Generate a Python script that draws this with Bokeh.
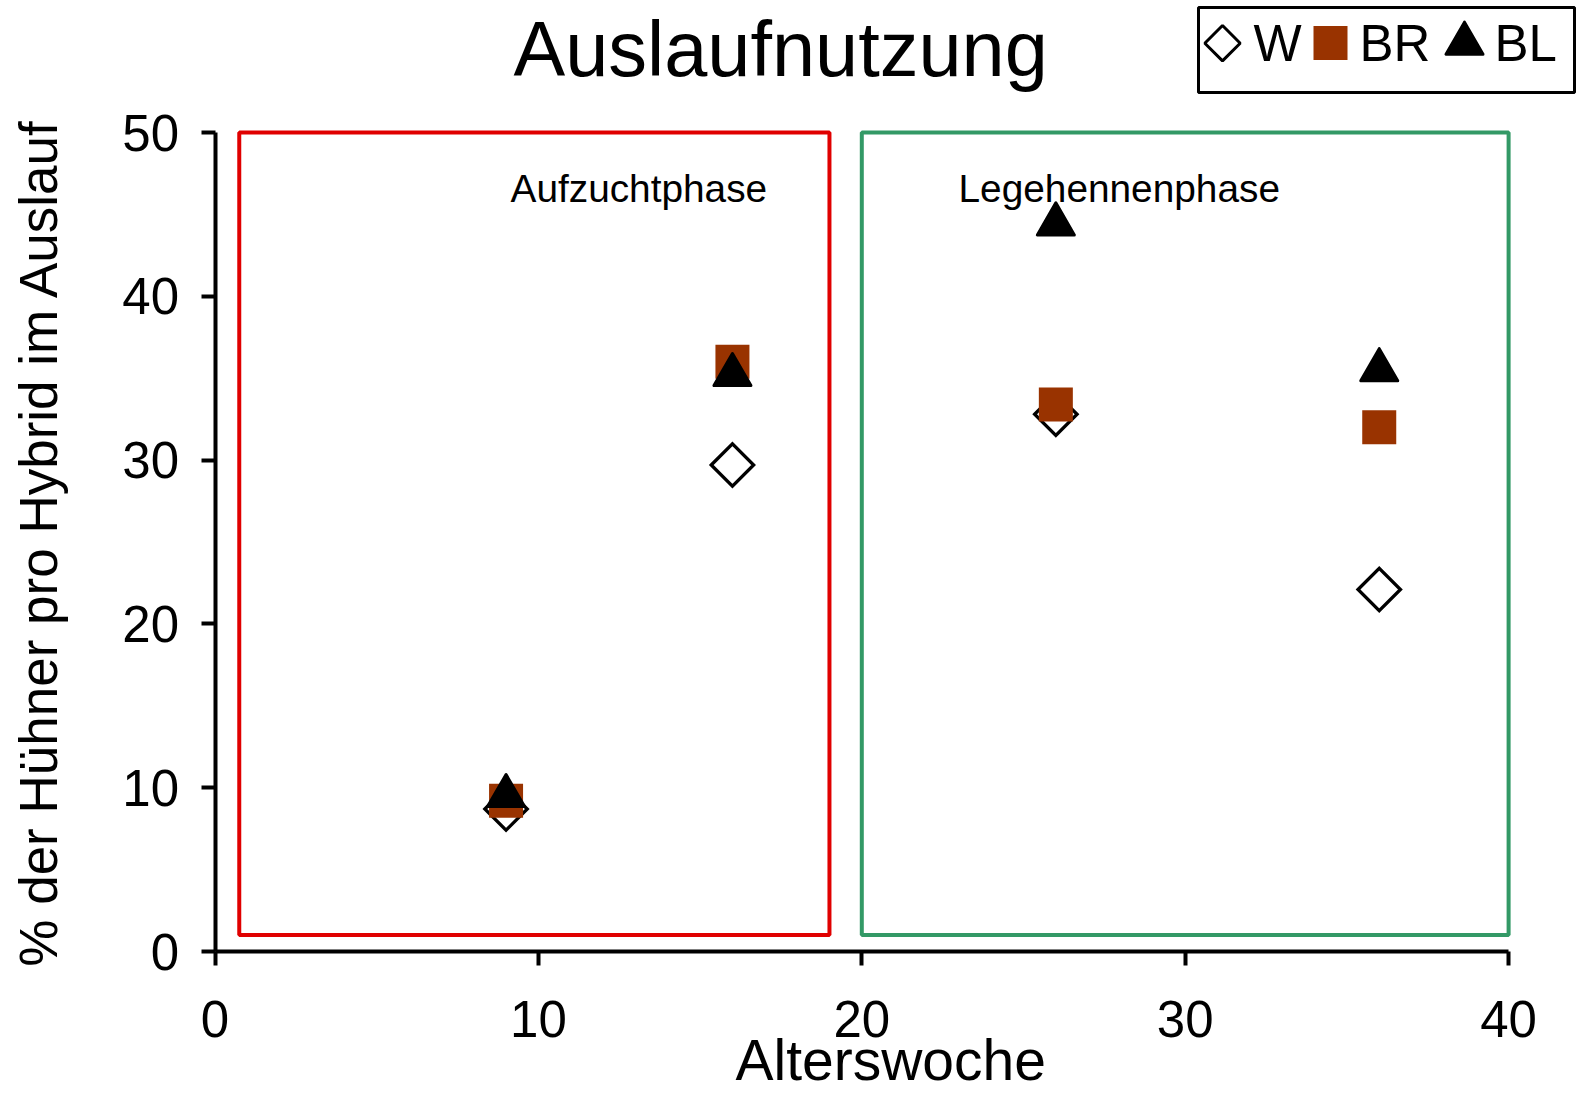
import math
from bokeh.plotting import figure
from bokeh.models import Range1d, Label
from bokeh.embed import file_html
from bokeh.resources import INLINE

# ---------------- data ----------------
weeks = [9, 16, 26, 36]
w_values = [8.7, 29.7, 32.8, 22.1]
br_values = [9.2, 36.0, 33.4, 32.0]
bl_values = [9.5, 35.2, 44.4, 35.5]
series_names = ["W", "BR", "BL"]

x_ticks = [0, 10, 20, 30, 40]
y_ticks = [0, 10, 20, 30, 40, 50]

phase_names = ["Aufzuchtphase", "Legehennenphase"]
phase_start = [0.75, 20]
phase_end = [19, 40]
phase_low = [1, 1]
phase_high = [50, 50]

title_text = "Auslaufnutzung"
x_label = "Alterswoche"
y_label = "% der Hühner pro Hybrid im Auslauf"

# ---------------- styles / layout ----------------
FONT = "Liberation Sans"
BROWN = "#993300"
RED = "#E00000"
GREEN = "#339966"
W, H = 1577, 1094
X0, XS = 214.5, 32.34     # pixel of x=0, pixels per x unit
Y0, YS = 951.0, 16.38     # pixel of y=0, pixels per y unit
BASE = 0.35               # baseline correction (em)


def dx(px):
    return (px - X0) / XS


def dy(py):
    return (Y0 - py) / YS


p = figure(width=W, height=H, output_backend="svg", toolbar_location=None,
           title=None, x_range=Range1d(dx(0), dx(W)), y_range=Range1d(dy(H), dy(0)),
           min_border=0)
p.outline_line_color = None
p.xgrid.grid_line_color = None
p.ygrid.grid_line_color = None
p.background_fill_color = "white"
p.border_fill_color = "white"

for ax in (p.xaxis[0], p.yaxis[0]):
    ax.fixed_location = 0
    ax.axis_line_width = 4
    ax.axis_line_color = "black"
    ax.major_tick_line_width = 4
    ax.major_tick_line_color = "black"
    ax.major_tick_out = 14
    ax.major_tick_in = 0
    ax.minor_tick_line_color = None
    ax.major_label_text_font = FONT
    ax.major_label_text_font_size = "51px"
    ax.major_label_text_color = "black"
p.xaxis.bounds = (0, 40)
p.yaxis.bounds = (0, 50)
p.xaxis.ticker = x_ticks
p.yaxis.ticker = y_ticks
p.xaxis.major_label_standoff = 35
p.yaxis.major_label_standoff = 22

# phase boxes
p.quad(left=phase_start[:1], right=phase_end[:1], bottom=phase_low[:1], top=phase_high[:1],
       fill_color=None, line_color=RED, line_width=4)
p.quad(left=phase_start[1:], right=phase_end[1:], bottom=phase_low[1:], top=phase_high[1:],
       fill_color=None, line_color=GREEN, line_width=4)

# series
p.scatter(weeks, w_values, marker="square", size=30, angle=math.pi / 4,
          fill_color="white", line_color="black", line_width=3.3, line_join="miter")
p.scatter(weeks, br_values, marker="square", size=34, fill_color=BROWN, line_color=None)
p.scatter(weeks, bl_values, marker="triangle", size=37, fill_color="black",
          line_color="black", line_width=3, line_join="round")


def label(text, px, base_py, size, align="left", angle=0.0):
    if angle == 0.0:
        ax_, ay_ = dx(px), dy(base_py - BASE * size)
    else:
        ax_, ay_ = dx(px - BASE * size), dy(base_py)
    p.add_layout(Label(x=ax_, y=ay_, text=text, text_font=FONT,
                       text_font_size=f"{size}px", text_align=align,
                       text_baseline="alphabetic", angle=angle, text_color="black"))


# phase labels
for name, lx in zip(phase_names, [510, 958]):
    label(name, lx, 201.7, 38.8)

# title
label(title_text, 513, 75.4, 77.5)

# axis labels
label(x_label, 735, 1079.3, 57)
label(y_label, 57, 542, 53, align="center", angle=math.pi / 2)

# legend (manual, to match marker sizes)
p.quad(left=[dx(1198)], right=[dx(1574)], bottom=[dy(92)], top=[dy(7)],
       fill_color="white", line_color="black", line_width=3)
p.scatter([dx(1222)], [dy(42.7)], marker="square", size=25, angle=math.pi / 4,
          fill_color="white", line_color="black", line_width=3)
p.scatter([dx(1330)], [dy(42.5)], marker="square", size=34, fill_color=BROWN, line_color=None)
p.scatter([dx(1464)], [dy(43)], marker="triangle", size=37, fill_color="black",
          line_color="black", line_width=3, line_join="round")
for name, tx in zip(series_names, [1253, 1359, 1494]):
    label(name, tx, 61, 51)

open("out.html", "w").write(file_html(p, INLINE))
